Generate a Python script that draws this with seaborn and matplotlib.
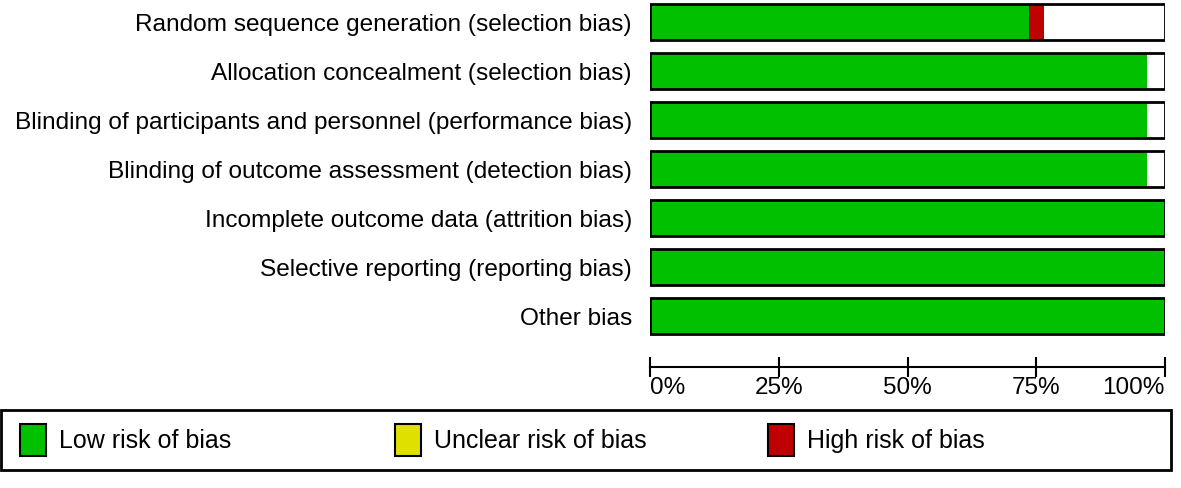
import numpy as np
import matplotlib
matplotlib.use('Agg')
import matplotlib.pyplot as plt
import seaborn as sns
from matplotlib.patches import Patch, Rectangle

# Risk of bias items and percentages of studies
domains = [
    'Random sequence generation (selection bias)',
    'Allocation concealment (selection bias)',
    'Blinding of participants and personnel (performance bias)',
    'Blinding of outcome assessment (detection bias)',
    'Incomplete outcome data (attrition bias)',
    'Selective reporting (reporting bias)',
    'Other bias',
]
low_risk = [73.5, 96.5, 96.5, 96.5, 100, 100, 100]
unclear_risk = [0, 0, 0, 0, 0, 0, 0]
high_risk = [3.1, 0, 0, 0, 0, 0, 0]
tick_values = [0, 25, 50, 75, 100]
tick_labels = ['0%', '25%', '50%', '75%', '100%']
legend_labels = ['Low risk of bias', 'Unclear risk of bias', 'High risk of bias']

GREEN = '#00c000'
YELLOW = '#e0e000'
RED = '#c00000'

sns.set_style('white', {'text.color': 'black', 'xtick.color': 'black',
                        'ytick.color': 'black', 'axes.labelcolor': 'black'})
plt.rcParams['font.family'] = ['Liberation Sans', 'DejaVu Sans']

W, H = 1181, 488
fig = plt.figure(figsize=(W / 100, H / 100), dpi=100)

# bar panel
left, right = 650 / W, 1165 / W
ax = fig.add_axes([left, 1 - 343 / H, right - left, 343 / H])

cum_unclear = [l + u for l, u in zip(low_risk, unclear_risk)]
cum_high = [c + h for c, h in zip(cum_unclear, high_risk)]

# stacked: draw cumulative totals first, low risk on top, then the outline
sns.barplot(x=cum_high, y=domains, color=RED, width=0.75, ax=ax,
            linewidth=0, saturation=1)
sns.barplot(x=cum_unclear, y=domains, color=YELLOW, width=0.75, ax=ax,
            linewidth=0, saturation=1)
sns.barplot(x=low_risk, y=domains, color=GREEN, width=0.75, ax=ax,
            linewidth=0, saturation=1)
sns.barplot(x=[100] * len(domains), y=domains, color='black', fill=False,
            width=0.75, ax=ax, linewidth=2)

ax.set_xlim(0, 100)
ax.set_ylim(6.55, -0.45)
ax.set_xticks([])
ax.set_xlabel('')
ax.set_ylabel('')
for s in ax.spines.values():
    s.set_visible(False)
ax.tick_params(axis='y', length=0, pad=13, labelsize=17.6, labelcolor='black')

# percentage scale
ax2 = fig.add_axes([left, 1 - 367 / H, right - left, 0.0001])
ax2.set_xlim(0, 100)
ax2.set_yticks([])
for name, s in ax2.spines.items():
    s.set_visible(name == 'bottom')
ax2.spines['bottom'].set_linewidth(1.5)
ax2.spines['bottom'].set_color('black')
ax2.set_xticks(tick_values)
ax2.set_xticklabels(tick_labels)
ax2.tick_params(axis='x', bottom=True, direction='inout', length=15, width=1.5,
                labelsize=17.5, pad=0, color='black', labelcolor='black')
labels = ax2.get_xticklabels()
labels[0].set_ha('left')
labels[-1].set_ha('right')

# legend box
fig.add_artist(Rectangle((1 / W, 18 / H), 1170 / W, 60 / H, transform=fig.transFigure,
                         facecolor='none', edgecolor='black', linewidth=2))
legend_colors = [GREEN, YELLOW, RED]
legend_x = [20, 395, 768]
for lab, col, lx in zip(legend_labels, legend_colors, legend_x):
    h = Patch(facecolor=col, edgecolor='black', linewidth=1.5, label=lab)
    leg = fig.legend(handles=[h], loc='center left',
                     bbox_to_anchor=(lx / W, 48 / H), fontsize=18,
                     frameon=False, handlelength=1.05, handleheight=1.6,
                     handletextpad=0.5, borderaxespad=0, borderpad=0)
    for t in leg.get_texts():
        t.set_color('black')

fig.savefig('out.png', dpi=100)
